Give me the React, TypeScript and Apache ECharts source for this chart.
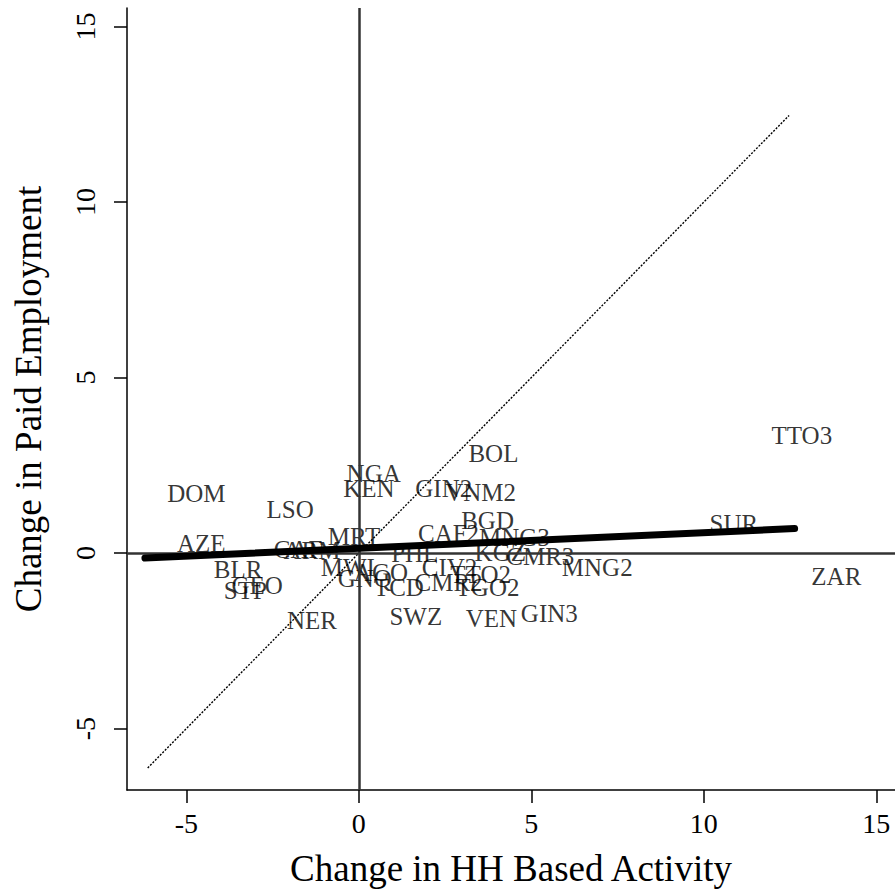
import React, { useEffect, useRef } from "react";
import * as echarts from "echarts";

const countries = ["DOM","LSO","NGA","KEN","GIN2","VNM2","BOL","BGD","CAF2","MNG3","KGZ","CMR3","MNG2","PHL","CIV2","TTO2","CMR2","TGO2","SWZ","VEN","GIN3","TTO3","SUR","ZAR","AZE","BLR","STP","GEO","CAF","ARM","MRT","MWI","GNQ","AGO","TCD","NER"];
const hhActivity = [-4.71,-1.99,0.43,0.29,2.46,3.53,3.90,3.73,2.60,4.51,4.10,5.26,6.91,1.62,2.63,3.53,2.60,3.73,1.65,3.84,5.52,12.84,10.87,13.84,-4.57,-3.50,-3.29,-2.95,-1.76,-1.36,-0.14,-0.32,0.17,0.64,1.16,-1.36];
const paidEmployment = [1.71,1.25,2.28,1.85,1.85,1.74,2.85,0.94,0.57,0.43,0.03,-0.11,-0.40,0.00,-0.40,-0.60,-0.85,-0.97,-1.82,-1.85,-1.71,3.36,0.85,-0.68,0.28,-0.46,-1.08,-0.91,0.09,0.06,0.46,-0.40,-0.71,-0.54,-0.97,-1.91];

const fitX = [-6.2, 12.63];
const fitY = [-0.14, 0.70];
const diagX = [-6.12, 12.47];
const diagY = [-6.12, 12.47];

const xTicks = [-5, 0, 5, 10, 15];
const yTicks = [-5, 0, 5, 10, 15];

const FONT = "Liberation Serif";

export default function App() {
  const ref = useRef<HTMLDivElement>(null);
  useEffect(() => {
    if (!ref.current) return;
    const chart = echarts.init(ref.current, undefined, { renderer: "svg" });
    const pts = countries.map((c, i) => [hhActivity[i], paidEmployment[i], c]);
    const option = {
      animation: false,
      textStyle: { fontFamily: FONT, color: "#000" },
      grid: { left: 127, right: 0, top: 8, bottom: 106, containLabel: false },
      xAxis: {
        type: "value",
        min: -6.72,
        max: 15.54,
        name: "Change in HH Based Activity",
        nameLocation: "middle",
        nameGap: 60,
        nameTextStyle: { fontSize: 37, color: "#000", fontFamily: FONT },
        axisLine: { show: true, onZero: false, lineStyle: { color: "#000", width: 1.5 } },
        axisTick: { show: true, length: 13, customValues: xTicks, lineStyle: { color: "#000", width: 1.5 } },
        axisLabel: { customValues: xTicks, fontSize: 28, color: "#000", fontFamily: FONT, margin: 19 },
        splitLine: { show: false },
      },
      yAxis: {
        type: "value",
        min: -6.75,
        max: 15.53,
        name: "Change in Paid Employment",
        nameLocation: "middle",
        nameGap: 80,
        nameTextStyle: { fontSize: 37, color: "#000", fontFamily: FONT },
        axisLine: { show: true, onZero: false, lineStyle: { color: "#000", width: 1.5 } },
        axisTick: { show: true, length: 13, customValues: yTicks, lineStyle: { color: "#000", width: 1.5 } },
        axisLabel: { customValues: yTicks, fontSize: 28, color: "#000", fontFamily: FONT, margin: 28, rotate: 90 },
        splitLine: { show: false },
      },
      series: [
        {
          type: "scatter",
          data: pts,
          symbolSize: 1,
          itemStyle: { color: "rgba(0,0,0,0)" },
          z: 2,
          silent: true,
          label: {
            show: true,
            position: "inside",
            formatter: (p: any) => p.value[2],
            fontSize: 25,
            color: "#000",
            fontFamily: FONT,
          },
          labelLayout: { hideOverlap: false },
        },
        {
          type: "line",
          data: [],
          z: 3,
          silent: true,
          markLine: {
            silent: true,
            symbol: ["none", "none"],
            label: { show: false },
            lineStyle: { color: "#333", width: 2.5, type: "solid" },
            data: [{ xAxis: 0 }, { yAxis: 0 }],
          },
        },
        {
          type: "line",
          data: diagX.map((x, i) => [x, diagY[i]]),
          showSymbol: false,
          symbol: "none",
          z: 4,
          silent: true,
          lineStyle: { color: "#000", width: 1.4, type: [2, 1.5] },
        },
        {
          type: "line",
          data: fitX.map((x, i) => [x, fitY[i]]),
          showSymbol: false,
          symbol: "none",
          z: 5,
          silent: true,
          lineStyle: { color: "#000", width: 7, cap: "round" },
        },
      ],
    };
    chart.setOption(option as any);
    return () => chart.dispose();
  }, []);
  return (
    <div
      ref={ref}
      style={{ position: "absolute", left: 0, top: 0, width: 895, height: 896, background: "#fff" }}
    />
  );
}
